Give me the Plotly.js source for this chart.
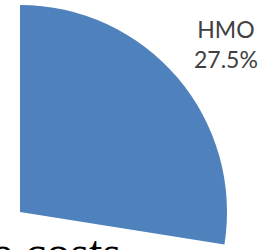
<!DOCTYPE html>
<html>
<head>
<meta charset="utf-8">
<script src="https://cdn.plot.ly/plotly-3.0.1.min.js"></script>
<style>
html,body{margin:0;padding:0;width:271px;height:250px;overflow:hidden;background:#fff;}
#wrap{position:absolute;left:0;top:0;width:271px;height:250px;overflow:hidden;}
#chart{position:absolute;}
</style>
</head>
<body>
<div id="wrap"><div id="chart"></div></div>
<script>
// Data read from the (cropped) chart
const categories = ['HMO', 'Other plans'];
const shares = [27.5, 72.5];          // percent
const titleText = 'care costs';

// Window-space geometry (the reference is a crop of a larger pie)
const OX = -187, OY = 0, W = 458, H = 440;
const el = document.getElementById('chart');
el.style.left = OX + 'px'; el.style.top = OY + 'px';
el.style.width = W + 'px'; el.style.height = H + 'px';
const px = x => (x - OX) / W;
const py = y => 1 - (y - OY) / H;
const cx = 20, cy = 212, r = 207;

const trace = {
  type: 'pie',
  labels: categories,
  values: shares,
  sort: false,
  direction: 'clockwise',
  rotation: 0,
  textinfo: 'none',
  hoverinfo: 'skip',
  marker: {colors: ['#4f81bd', 'rgba(255,255,255,0)'], line: {width: 0}},
  domain: {x: [px(cx - r), px(cx + r)], y: [py(cy + r), py(cy - r)]},
  showlegend: false
};

const total = shares.reduce((a, b) => a + b, 0);
const layout = {
  width: W, height: H,
  margin: {l: 0, r: 0, t: 0, b: 0},
  paper_bgcolor: 'rgba(0,0,0,0)',
  plot_bgcolor: 'rgba(0,0,0,0)',
  showlegend: false,
  annotations: [
    {
      xref: 'paper', yref: 'paper', x: px(226), y: py(44),
      xanchor: 'center', yanchor: 'middle', showarrow: false,
      text: categories[0] + '<br>' + (shares[0] / total * 100).toFixed(1) + '%',
      font: {family: 'Lato, "Liberation Sans", sans-serif', size: 23, color: '#404040'}
    },
    {
      xref: 'paper', yref: 'paper', x: px(123), y: py(253),
      xanchor: 'right', yanchor: 'middle', showarrow: false,
      text: titleText,
      font: {family: '"Liberation Serif", "DejaVu Serif", serif', size: 48, color: '#000000'}
    }
  ]
};

Plotly.newPlot(el, [trace], layout, {displayModeBar: false, staticPlot: true});
</script>
</body>
</html>
